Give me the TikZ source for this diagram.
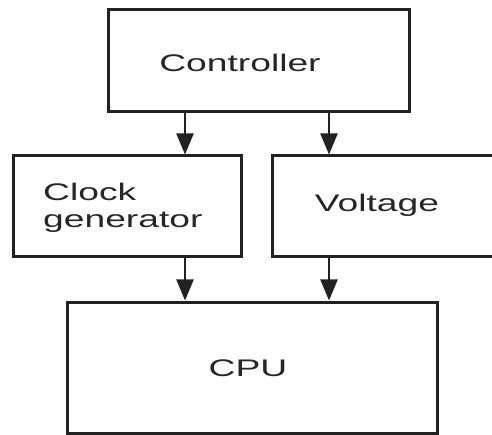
\documentclass[tikz,border=0pt]{standalone}
\usepackage{fontspec}
\usepackage{graphicx}
\setmainfont{Liberation Sans}
\usetikzlibrary{arrows.meta}
\definecolor{edge}{HTML}{222222}
\definecolor{ink}{HTML}{262626}
\newcommand{\wide}[1]{\scalebox{1.55}[1]{#1}}
\tikzset{
  blockbox/.style={draw=edge, line width=3pt, rectangle, inner sep=0pt},
  lbl/.style={text=ink, inner sep=0pt, font=\fontsize{24}{27}\selectfont},
  arr/.style={draw=edge, line width=2.2pt, -{Triangle[length=21pt,width=17pt]}}
}
\begin{document}
\begin{tikzpicture}[x=1pt,y=-1pt]
\clip (0,0) rectangle (492,435);
\useasboundingbox (0,0) rectangle (492,435);
\fill[white] (0,0) rectangle (492,435);
% boxes
\node[blockbox, minimum width=301pt, minimum height=102pt] (ctrl) at (258.5,61) {};
\node[blockbox, minimum width=228pt, minimum height=101pt] (clk) at (127,206.5) {};
\node[blockbox, minimum width=226pt, minimum height=101pt] (volt) at (385,206.5) {};
\node[blockbox, minimum width=370pt, minimum height=131pt] (cpu) at (252,367.5) {};
% labels
\node[lbl] (ctrlt) at (240,63) {\wide{Controller}};
\node[lbl, anchor=west, align=left] (clkt) at (43,208) {\wide{Clock}\\\wide{generator}};
\node[lbl] (voltt) at (377,205) {\wide{Voltage}};
\node[lbl] (cput) at (248,368) {\wide{CPU}};
% arrow columns
\coordinate (ca) at (185,0);
\coordinate (cb) at (329,0);
\draw[arr] (ctrl.south -| ca) -- (clk.north -| ca);
\draw[arr] (ctrl.south -| cb) -- (volt.north -| cb);
\draw[arr] (clk.south -| ca) -- (cpu.north -| ca);
\draw[arr] (volt.south -| cb) -- (cpu.north -| cb);
\end{tikzpicture}
\end{document}
